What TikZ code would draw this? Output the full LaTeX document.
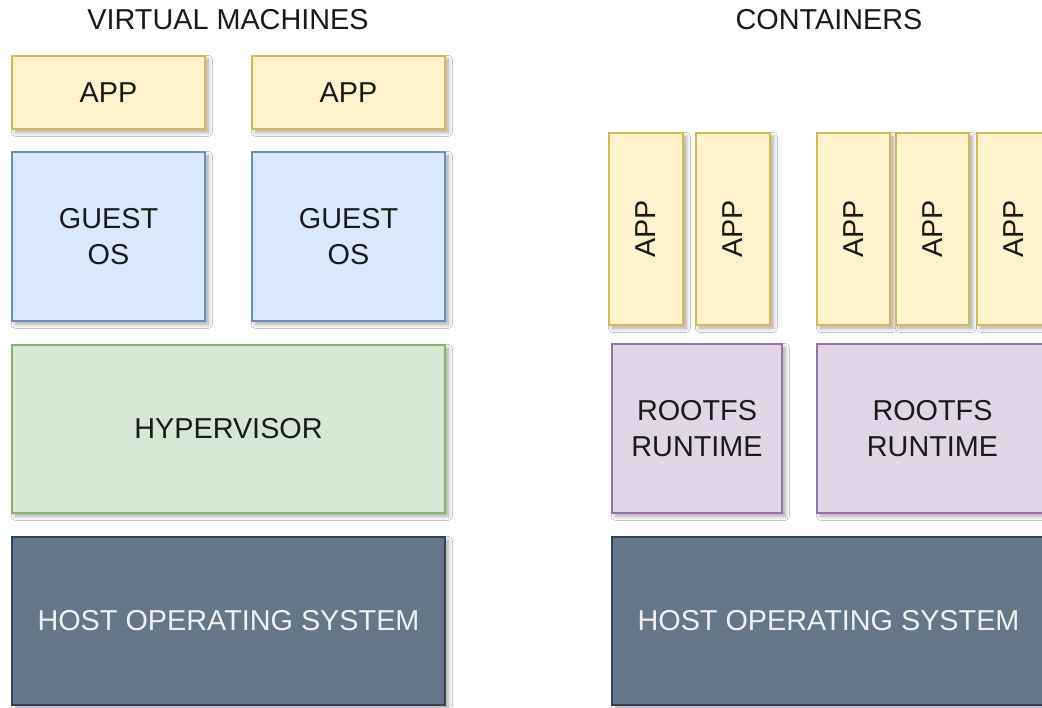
\documentclass[tikz,border=0pt]{standalone}
\usepackage{fontspec}
\setmainfont{Liberation Sans}
\usetikzlibrary{fit,shadows.blur}
\definecolor{appfill}{HTML}{FFF2CC}\definecolor{appline}{HTML}{D6B656}
\definecolor{osfill}{HTML}{DAE8FC}\definecolor{osline}{HTML}{6C8EBF}
\definecolor{hvfill}{HTML}{D5E8D4}\definecolor{hvline}{HTML}{82B366}
\definecolor{rtfill}{HTML}{E1D5E7}\definecolor{rtline}{HTML}{9673A6}
\definecolor{hostfill}{HTML}{647687}\definecolor{hostline}{HTML}{314354}
\definecolor{ink}{HTML}{1A1A1A}
\tikzset{
  layer/.style={rectangle, inner sep=0pt, line width=1.1pt,
    blur shadow={shadow xshift=2.5pt, shadow yshift=-2.5pt,
      shadow blur steps=8, shadow blur radius=3pt, shadow opacity=35}},
  applayer/.style={layer, fill=appfill, draw=appline},
  oslayer/.style={layer, fill=osfill, draw=osline},
  hvlayer/.style={layer, fill=hvfill, draw=hvline},
  rtlayer/.style={layer, fill=rtfill, draw=rtline},
  hostlayer/.style={layer, fill=hostfill, draw=hostline},
  caption/.style={inner sep=0pt, align=center, text=ink,
    font=\fontsize{21.6}{27}\selectfont},
  hostcaption/.style={caption, text=white!94!black},
  heading/.style={inner sep=0pt, text=ink, font=\fontsize{21.6}{27}\selectfont, anchor=base},
}
\begin{document}
\begin{tikzpicture}[x=0.75pt, y=-0.75pt]
  \clip (0,0) rectangle (1042,707);
  \fill[white] (0,0) rectangle (1042,707);

  % headings
  \node[heading] (vmtitle) at (228,29) {VIRTUAL MACHINES};
  \node[heading] (cttitle) at (829,29) {CONTAINERS};

  % virtual machine stack
  \node[applayer, fit={(12,56) (205,129)}] (vmapp1) {};
  \node[applayer, fit={(252,56) (445,129)}] (vmapp2) {};
  \node[oslayer, fit={(12,152) (205,321)}] (guest1) {};
  \node[oslayer, fit={(252,152) (445,321)}] (guest2) {};
  \node[hvlayer, fit={(12,345) (445,513)}] (hyper) {};
  \node[hostlayer, fit={(12,537) (445,705)}] (vmhost) {};

  \node[caption] (vmapp1t) at (vmapp1.center) {APP};
  \node[caption] (vmapp2t) at (vmapp2.center) {APP};
  \node[caption] (guest1t) at (guest1.center) {GUEST\\OS};
  \node[caption] (guest2t) at (guest2.center) {GUEST\\OS};
  \node[caption] (hypert) at (hyper.center) {HYPERVISOR};
  \node[hostcaption] (vmhostt) at (vmhost.center) {HOST OPERATING SYSTEM};

  % container stack
  \node[applayer, fit={(609,133) (683,325)}] (capp1) {};
  \node[applayer, fit={(696,133) (770,325)}] (capp2) {};
  \node[applayer, fit={(817,133) (890,325)}] (capp3) {};
  \node[applayer, fit={(896,133) (969,325)}] (capp4) {};
  \node[applayer, fit={(977,133) (1050,325)}] (capp5) {};
  \node[rtlayer, fit={(612,344) (782,513)}] (rt1) {};
  \node[rtlayer, fit={(817,344) (1048,513)}] (rt2) {};
  \node[hostlayer, fit={(612,537) (1045,705)}] (cthost) {};

  \foreach \a in {capp1,capp2,capp3,capp4,capp5}
    \node[caption, rotate=90] (\a t) at (\a.center) {APP};
  \node[caption] (rt1t) at (rt1.center) {ROOTFS\\RUNTIME};
  \node[caption] (rt2t) at (rt2.center) {ROOTFS\\RUNTIME};
  \node[hostcaption] (cthostt) at (cthost.center) {HOST OPERATING SYSTEM};
\end{tikzpicture}
\end{document}
